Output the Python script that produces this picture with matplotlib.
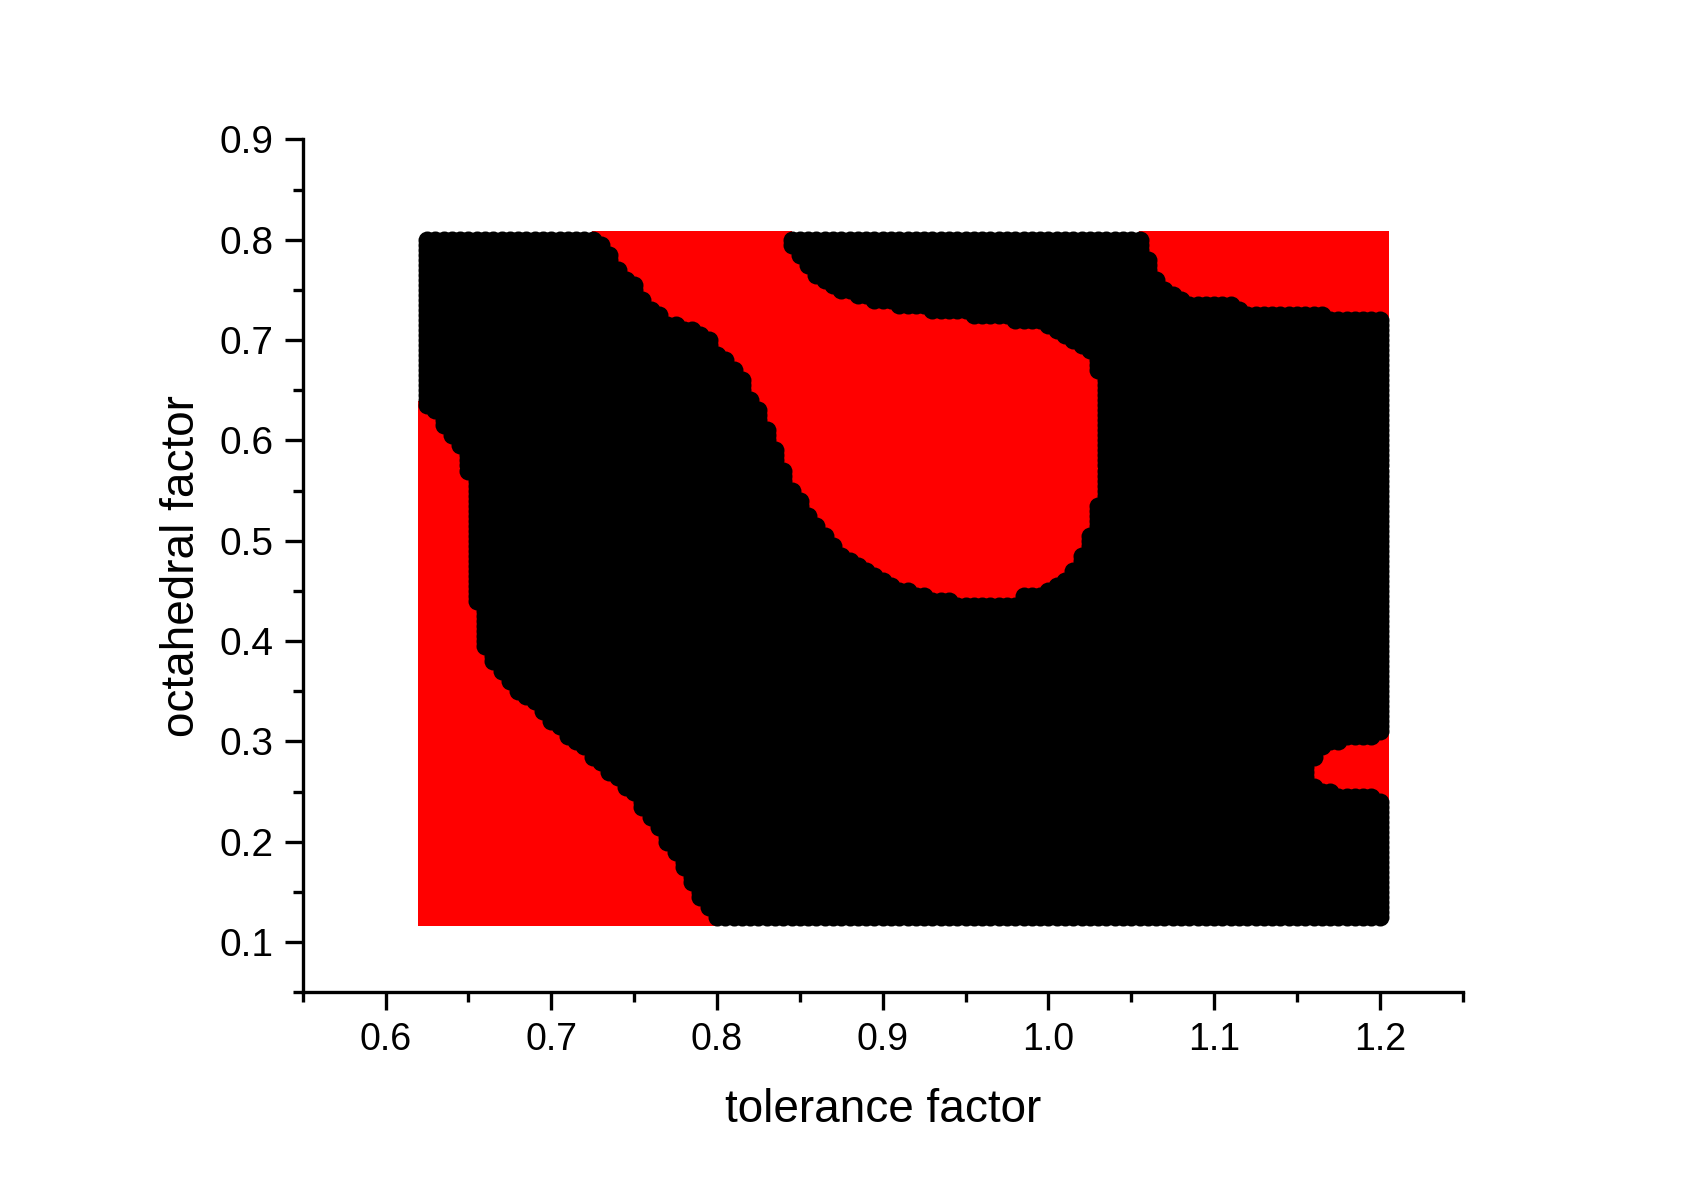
import numpy as np
import matplotlib.pyplot as plt
from matplotlib.path import Path
from matplotlib.ticker import MultipleLocator, FormatStrFormatter

plt.rcParams['font.family'] = ['Liberation Sans', 'DejaVu Sans']

# sampled grid: tolerance factor (t) and octahedral factor (mu)
t_start, t_stop, t_step = 0.625, 1.200, 0.005
mu_start, mu_stop, mu_step = 0.125, 0.800, 0.005

# outlines of the red (non-formable) areas
red_lower_left = [(0.610, 0.6352), (0.6199, 0.6352), (0.6241, 0.6282), (0.6290, 0.6202),
                  (0.6314, 0.6103), (0.6374, 0.6003), (0.6422, 0.5904), (0.6435, 0.5704),
                  (0.6483, 0.5635), (0.6483, 0.4439), (0.6531, 0.4359), (0.6537, 0.3941),
                  (0.6573, 0.3881), (0.6616, 0.3791), (0.6664, 0.3682), (0.6712, 0.3542),
                  (0.6797, 0.3413), (0.6893, 0.3313), (0.6935, 0.3194), (0.7014, 0.3114),
                  (0.7074, 0.3014), (0.7189, 0.2895), (0.7237, 0.2785), (0.7298, 0.2715),
                  (0.7358, 0.2616), (0.7418, 0.2516), (0.7479, 0.2416), (0.7527, 0.2317),
                  (0.7581, 0.2187), (0.7642, 0.2048), (0.7702, 0.1888), (0.7762, 0.1719),
                  (0.7823, 0.1550), (0.7883, 0.1391), (0.7943, 0.1251), (0.7992, 0.1161),
                  (0.7992, 0.100), (0.610, 0.100)]

red_middle = [(0.7279, 0.830), (0.8402, 0.830), (0.8402, 0.7917), (0.8456, 0.7827),
              (0.8505, 0.7698), (0.8607, 0.7578), (0.8704, 0.7468), (0.8825, 0.7398),
              (0.8987, 0.7319), (0.9211, 0.7269), (0.9512, 0.7199), (0.9790, 0.7149),
              (0.9953, 0.7100), (1.0031, 0.7030), (1.0116, 0.6970), (1.0194, 0.6870),
              (1.0243, 0.6801), (1.0255, 0.6701), (1.0297, 0.6551), (1.0297, 0.5435),
              (1.0243, 0.5336), (1.0237, 0.5176), (1.0194, 0.5007), (1.0152, 0.4838),
              (1.0092, 0.4678), (0.9995, 0.4559), (0.9850, 0.4509), (0.9772, 0.4429),
              (0.9452, 0.4429), (0.9349, 0.4479), (0.9186, 0.4539), (0.9048, 0.4628),
              (0.8927, 0.4738), (0.8806, 0.4887), (0.8704, 0.5027), (0.8643, 0.5176),
              (0.8583, 0.5306), (0.8523, 0.5435), (0.8462, 0.5607), (0.8414, 0.5806),
              (0.8366, 0.6005), (0.8323, 0.6174), (0.8281, 0.6334), (0.8233, 0.6404),
              (0.8203, 0.6573), (0.8142, 0.6701), (0.8100, 0.6831), (0.8022, 0.6930),
              (0.7979, 0.7030), (0.7901, 0.7129), (0.7690, 0.7259), (0.7587, 0.7448),
              (0.7527, 0.7578), (0.7418, 0.7768), (0.7358, 0.7947), (0.7279, 0.8103)]

red_upper_right = [(1.0587, 0.830), (1.0587, 0.8096), (1.0599, 0.7927), (1.0635, 0.7817),
                   (1.0659, 0.7667), (1.0695, 0.7583), (1.0756, 0.7523), (1.0816, 0.7483),
                   (1.0876, 0.7433), (1.1142, 0.7398), (1.1178, 0.7349), (1.1661, 0.7329),
                   (1.1703, 0.7279), (1.2005, 0.7269), (1.2035, 0.7229), (1.220, 0.7229),
                   (1.220, 0.830)]

red_right_notch = [(1.220, 0.3047), (1.2047, 0.3047), (1.1987, 0.2997), (1.1824, 0.2997),
                   (1.1782, 0.2947), (1.1703, 0.2914), (1.1661, 0.2865), (1.1600, 0.2785),
                   (1.1582, 0.2715), (1.1600, 0.2648), (1.1643, 0.2598), (1.1721, 0.2585),
                   (1.1763, 0.2536), (1.1963, 0.2516), (1.2023, 0.2436), (1.2047, 0.2416),
                   (1.220, 0.2416)]

# approximate pixels per data unit, and how close a black marker may sit to red
X_PX, Y_PX = 1657.0, 1003.5
R_PX = 5.0


def in_red(pts, poly):
    poly = np.asarray(poly)
    inside = Path(poly).contains_points(pts)
    sc = np.array([X_PX, Y_PX])
    p = pts * sc
    a = poly * sc
    ab = np.roll(a, -1, axis=0) - a
    ap = p[:, None, :] - a[None, :, :]
    u = np.clip((ap * ab).sum(-1) / (ab ** 2).sum(-1), 0, 1)
    d = np.linalg.norm(ap - u[..., None] * ab, axis=-1).min(axis=1)
    return inside | (d < R_PX)


t_vals = np.arange(t_start, t_stop + t_step / 2, t_step)
mu_vals = np.arange(mu_start, mu_stop + mu_step / 2, mu_step)
T, M = np.meshgrid(t_vals, mu_vals)
pts = np.column_stack([T.ravel(), M.ravel()])

red = np.zeros(len(pts), dtype=bool)
for poly in [red_lower_left, red_middle, red_upper_right, red_right_notch]:
    red |= in_red(pts, poly)

fig = plt.figure(figsize=(16.96, 11.92), dpi=100)
ax = fig.add_axes([0.1785, 0.1675, 0.6839, 0.7156])

ax.scatter(pts[red, 0], pts[red, 1], marker='s', s=168, color='#ff0000', linewidths=0, zorder=2)
ax.scatter(pts[~red, 0], pts[~red, 1], marker='o', s=168, color='black', linewidths=0, zorder=3)

ax.set_xlim(0.55, 1.25)
ax.set_ylim(0.05, 0.9)
ax.spines['top'].set_visible(False)
ax.spines['right'].set_visible(False)
for s in ['left', 'bottom']:
    ax.spines[s].set_linewidth(2.4)

ax.xaxis.set_minor_locator(MultipleLocator(0.05))
ax.yaxis.set_minor_locator(MultipleLocator(0.05))
ax.set_xticks([0.6, 0.7, 0.8, 0.9, 1.0, 1.1, 1.2])
ax.set_yticks([0.1, 0.2, 0.3, 0.4, 0.5, 0.6, 0.7, 0.8, 0.9])
ax.xaxis.set_major_formatter(FormatStrFormatter('%.1f'))
ax.yaxis.set_major_formatter(FormatStrFormatter('%.1f'))
ax.tick_params(which='major', direction='out', length=13, width=2.4, pad=8)
ax.tick_params(which='minor', direction='out', length=7, width=2.4)
ax.tick_params(axis='x', which='major', labelsize=27)
ax.tick_params(axis='y', which='major', labelsize=28)

ax.set_xlabel('tolerance factor', fontsize=33, labelpad=22)
ax.set_ylabel('octahedral factor', fontsize=33, labelpad=11)

fig.savefig('out.png', dpi=100)
